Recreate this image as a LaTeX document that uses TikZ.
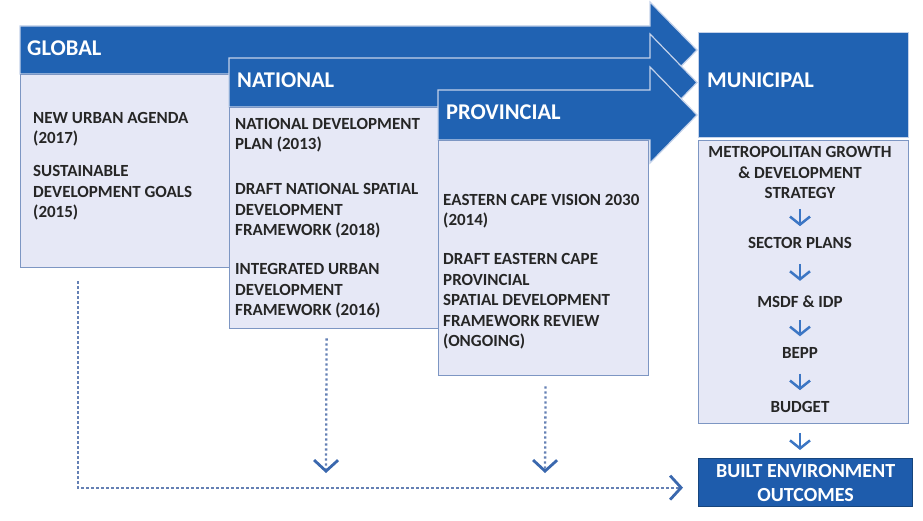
\documentclass[tikz,border=0pt]{standalone}
\usepackage{fontspec}
\setmainfont{Carlito}
\usepackage{tikz}
\usetikzlibrary{arrows.meta}

\definecolor{headblue}{RGB}{32,98,178}
\definecolor{bandedge}{RGB}{196,210,234}
\definecolor{boxfill}{RGB}{230,232,246}
\definecolor{boxedge}{RGB}{125,150,195}
\definecolor{textdark}{RGB}{38,38,38}
\definecolor{chevblue}{RGB}{60,118,196}
\definecolor{dotblue}{RGB}{100,128,180}
\definecolor{tipblue}{RGB}{58,104,174}
\definecolor{outcomeblue}{RGB}{30,92,172}

\begin{document}
\begin{tikzpicture}[x=1pt, y=1pt]

% Define block styles
\tikzstyle{band} = [fill=headblue, draw=bandedge, line width=1.2pt, line join=miter]
\tikzstyle{box} = [rectangle, anchor=north west, draw=boxedge, fill=boxfill, line width=1.3pt, inner sep=0pt]
\tikzstyle{outcome} = [box, fill=outcomeblue, draw=headblue!70!black, text=white, align=center, font=\bfseries\fontsize{20}{24}\selectfont]
\tikzstyle{headtext} = [anchor=west, inner sep=0pt, text=white, font=\bfseries\fontsize{22.5}{27}\selectfont]
\tikzstyle{item} = [anchor=west, align=left, inner sep=0pt, text=textdark, font=\bfseries\fontsize{17}{20.5}\selectfont]
\tikzstyle{munitem} = [item, anchor=center, align=center]
\tikzstyle{chev} = [draw=chevblue, line width=2.2pt, -{Straight Barb[length=8pt, width=20pt, line width=2.5pt]}]
\tikzstyle{dotline} = [draw=dotblue, line width=2.3pt, dash pattern=on 2.4pt off 2.6pt, -{Straight Barb[length=11pt, width=24pt, line width=2.8pt, color=tipblue]}]

\useasboundingbox (0,0) rectangle (923,-521);

% Define nodes
\draw [band] (20,-26) -- (650,-26) -- (650,-2) -- (697,-50) -- (650,-98) -- (650,-74) -- (20,-74) -- cycle;
\node (globalbox) [box, minimum width=210pt, minimum height=193pt] at (20,-74) {};

\draw [band] (229,-58) -- (650,-58) -- (650,-34) -- (697,-82.5) -- (650,-131) -- (650,-107) -- (229,-107) -- cycle;
\node (natbox) [box, minimum width=211pt, minimum height=221pt] at (229,-107) {};

\draw [band] (438,-90) -- (650,-90) -- (650,-67) -- (697,-115) -- (650,-163) -- (650,-140) -- (438,-140) -- cycle;
\node (provbox) [box, minimum width=210pt, minimum height=235pt] at (438,-140) {};

\node (munihead) [box, fill=headblue, draw=bandedge, minimum width=210pt, minimum height=105pt] at (698,-32) {};
\node (munibox) [box, minimum width=210pt, minimum height=283pt] at (698,-140) {};
\node (builtenv) [outcome, minimum width=214pt, minimum height=48pt] at (698,-458) {BUILT ENVIRONMENT\\OUTCOMES};

\node (global) [headtext] at (27,-48) {GLOBAL};
\node (national) [headtext] at (237,-80) {NATIONAL};
\node (provincial) [headtext] at (446,-112) {PROVINCIAL};
\node (municipal) [headtext] at (707,-80) {MUNICIPAL};

\node (nua) [item] at (33,-129) {NEW URBAN AGENDA\\(2017)};
\node (sdg) [item] at (33,-193) {SUSTAINABLE\\DEVELOPMENT GOALS\\(2015)};

\node (ndp) [item] at (235,-135) {NATIONAL DEVELOPMENT\\PLAN (2013)};
\node (nsdf) [item] at (235,-211) {DRAFT NATIONAL SPATIAL\\DEVELOPMENT\\FRAMEWORK (2018)};
\node (iudf) [item] at (235,-291) {INTEGRATED URBAN\\DEVELOPMENT\\FRAMEWORK (2016)};

\node (ecv) [item] at (443,-211) {EASTERN CAPE VISION 2030\\(2014)};
\node (psdf) [item] at (443,-301.5) {DRAFT EASTERN CAPE\\PROVINCIAL\\SPATIAL DEVELOPMENT\\FRAMEWORK REVIEW\\(ONGOING)};

\node (mgds) [munitem] at (800,-172.5) {METROPOLITAN GROWTH\\\& DEVELOPMENT\\STRATEGY};
\node (sector) [munitem] at (800,-243) {SECTOR PLANS};
\node (msdf) [munitem] at (800,-302) {MSDF \& IDP};
\node (bepp) [munitem] at (800,-353) {BEPP};
\node (budget) [munitem] at (800,-407) {BUDGET};

\coordinate (natend) at (326,-473);
\coordinate (provend) at (545,-473);

% Draw arrows
\draw [chev, shorten <=10pt, shorten >=11pt] (mgds) -- (sector);
\draw [chev, shorten <=15pt, shorten >=15pt] (sector) -- (msdf);
\draw [chev, shorten <=12pt, shorten >=11pt] (msdf) -- (bepp);
\draw [chev, shorten <=15pt, shorten >=11pt] (bepp) -- (budget);
\draw [chev, shorten <=20pt, shorten >=8pt] (budget) -- (budget |- builtenv.north);

\draw [dotline, shorten <=13pt, shorten >=15pt] ([xshift=-48pt]globalbox.south) |- ([yshift=-5pt]builtenv.west);
\draw [dotline, shorten <=9pt] ([xshift=-8.5pt]natbox.south) -- (natend);
\draw [dotline, shorten <=10pt] ([xshift=2pt]provbox.south) -- (provend);
\end{tikzpicture}
\end{document}
